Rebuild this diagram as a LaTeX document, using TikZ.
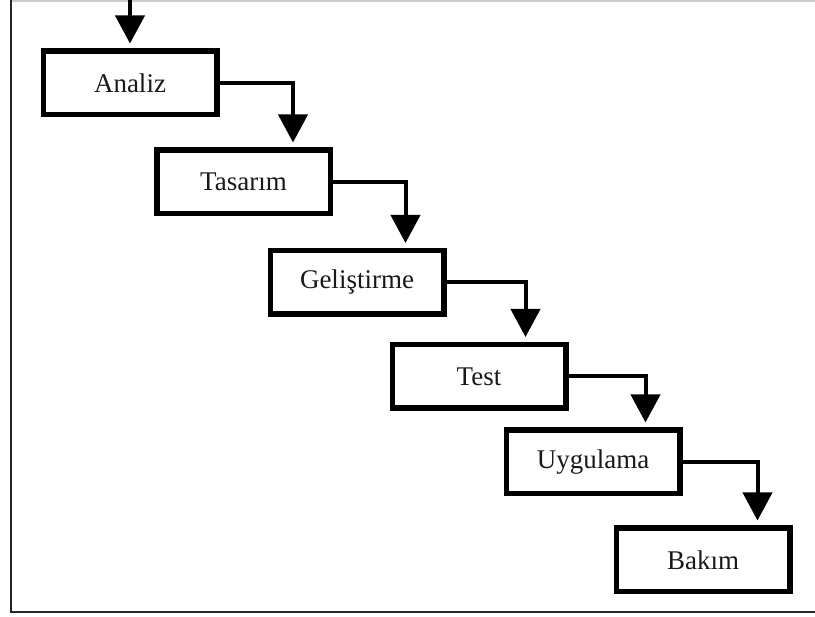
\documentclass[tikz,border=0pt]{standalone}
\usepackage{fontspec}
\setmainfont{Liberation Serif}
\usetikzlibrary{arrows.meta}
\tikzset{
  stagebox/.style={draw=black, line width=5.5pt, minimum width=173.5pt, minimum height=63.5pt, inner sep=0pt, font=\fontsize{27}{30}\selectfont, text=black!90},
  flowline/.style={line width=4pt, -{Triangle[width=29pt,length=28pt]}, shorten >=5pt},
}
\begin{document}
\begin{tikzpicture}[x=1pt,y=-1pt]
\useasboundingbox (0,0) rectangle (815,617);
% frame
\draw[line width=1.5pt, black!20] (11,0.8) -- (815,0.8);
\draw[line width=2.5pt, black!85] (11,0) -- (11,612) -- (815,612);
% stages
\node[stagebox] (a) at (130,83) {Analiz};
\node[stagebox] (b) at (243.5,182) {Tasarım};
\node[stagebox] (c) at (357,282.5) {Geliştirme};
\node[stagebox] (d) at (479,376.5) {Test};
\node[stagebox] (e) at (593,462) {Uygulama};
\node[stagebox] (f) at (703,560) {Bakım};
% connectors
\coordinate (start) at (130,-2);
\draw[flowline] (start) -- (a.north);
\draw[flowline] (a.east) -| ([xshift=139pt]b.north west);
\draw[flowline] (b.east) -| ([xshift=138pt]c.north west);
\draw[flowline] (c.east) -| ([xshift=136pt]d.north west);
\draw[flowline] (d.east) -| ([xshift=142pt]e.north west);
\draw[flowline] (e.east) -| ([xshift=144pt]f.north west);
\end{tikzpicture}
\end{document}
